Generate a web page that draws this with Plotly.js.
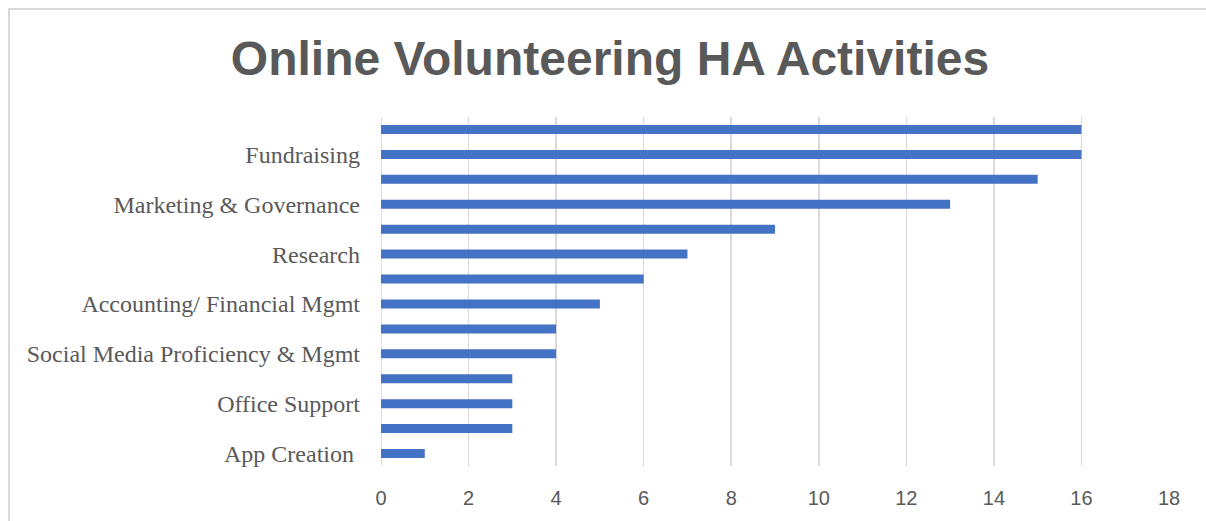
<!DOCTYPE html>
<html>
<head>
<meta charset="utf-8">
<script src="https://cdn.plot.ly/plotly-3.0.1.min.js"></script>
<style>
  html, body { margin: 0; padding: 0; background: #fff; }
  #wrap { position: relative; width: 1206px; height: 521px; overflow: hidden; }
  #chart { position: absolute; left: 0; top: 0; width: 1206px; height: 521px; }
  #frame { position: absolute; left: 8px; top: 8px; width: 1300px; height: 600px;
           border-left: 2px solid #d9d9d9; border-top: 2px solid #d9d9d9; pointer-events: none; }
</style>
</head>
<body>
<div id="wrap">
  <div id="chart"></div>
  <div id="frame"></div>
</div>
<script>
// Bottom-to-top order (as drawn by the axis)
const categoryLabels = [
  "App Creation\u00a0", "", "Office Support", "", "Social Media Proficiency & Mgmt", "",
  "Accounting/ Financial Mgmt", "", "Research", "", "Marketing & Governance", "",
  "Fundraising", ""
];
const values = [1, 3, 3, 3, 4, 4, 5, 6, 7, 9, 13, 15, 16, 16];
const xTicks = [0, 2, 4, 6, 8, 10, 12, 14, 16, 18];
const chartTitle = "Online Volunteering HA Activities";

const positions = categoryLabels.map((_, i) => i);

const trace = {
  type: "bar",
  orientation: "h",
  x: values,
  y: positions,
  marker: { color: "#4472C4" },
  hoverinfo: "x"
};

const layout = {
  width: 1206,
  height: 521,
  margin: { l: 381, r: 37, t: 117, b: 55 },
  paper_bgcolor: "#ffffff",
  plot_bgcolor: "#ffffff",
  showlegend: false,
  bargap: 0.64,
  title: {
    text: "<b>" + chartTitle + "</b>",
    font: { family: "Liberation Sans, Arial, sans-serif", size: 48, color: "#595959" },
    x: 610 / 1206,
    xanchor: "center",
    xref: "container",
    y: 1 - 58 / 521,
    yanchor: "middle",
    yref: "container"
  },
  xaxis: {
    range: [0, 18],
    tickvals: xTicks,
    ticktext: xTicks.map(String),
    showgrid: true,
    gridcolor: "#d9d9d9",
    gridwidth: 1.5,
    zeroline: false,
    showline: false,
    ticks: "",
    ticklabelstandoff: 18,
    tickfont: { family: "Liberation Sans Narrow, Liberation Sans, Arial, sans-serif", size: 20, color: "#595959" },
    fixedrange: true
  },
  yaxis: {
    range: [-0.5, categoryLabels.length - 0.5],
    tickvals: positions,
    ticktext: categoryLabels,
    showgrid: false,
    zeroline: false,
    showline: false,
    ticks: "",
    ticklabelstandoff: 20,
    tickfont: { family: "Liberation Serif, 'Times New Roman', serif", size: 24, color: "#595959" },
    fixedrange: true
  },
  shapes: [
    { type: "line", xref: "x", yref: "paper", x0: 0, x1: 0, y0: 0, y1: 1,
      line: { color: "#d9d9d9", width: 1.5 }, layer: "below" }
  ]
};

Plotly.newPlot("chart", [trace], layout, { displayModeBar: false, staticPlot: true });
</script>
</body>
</html>
